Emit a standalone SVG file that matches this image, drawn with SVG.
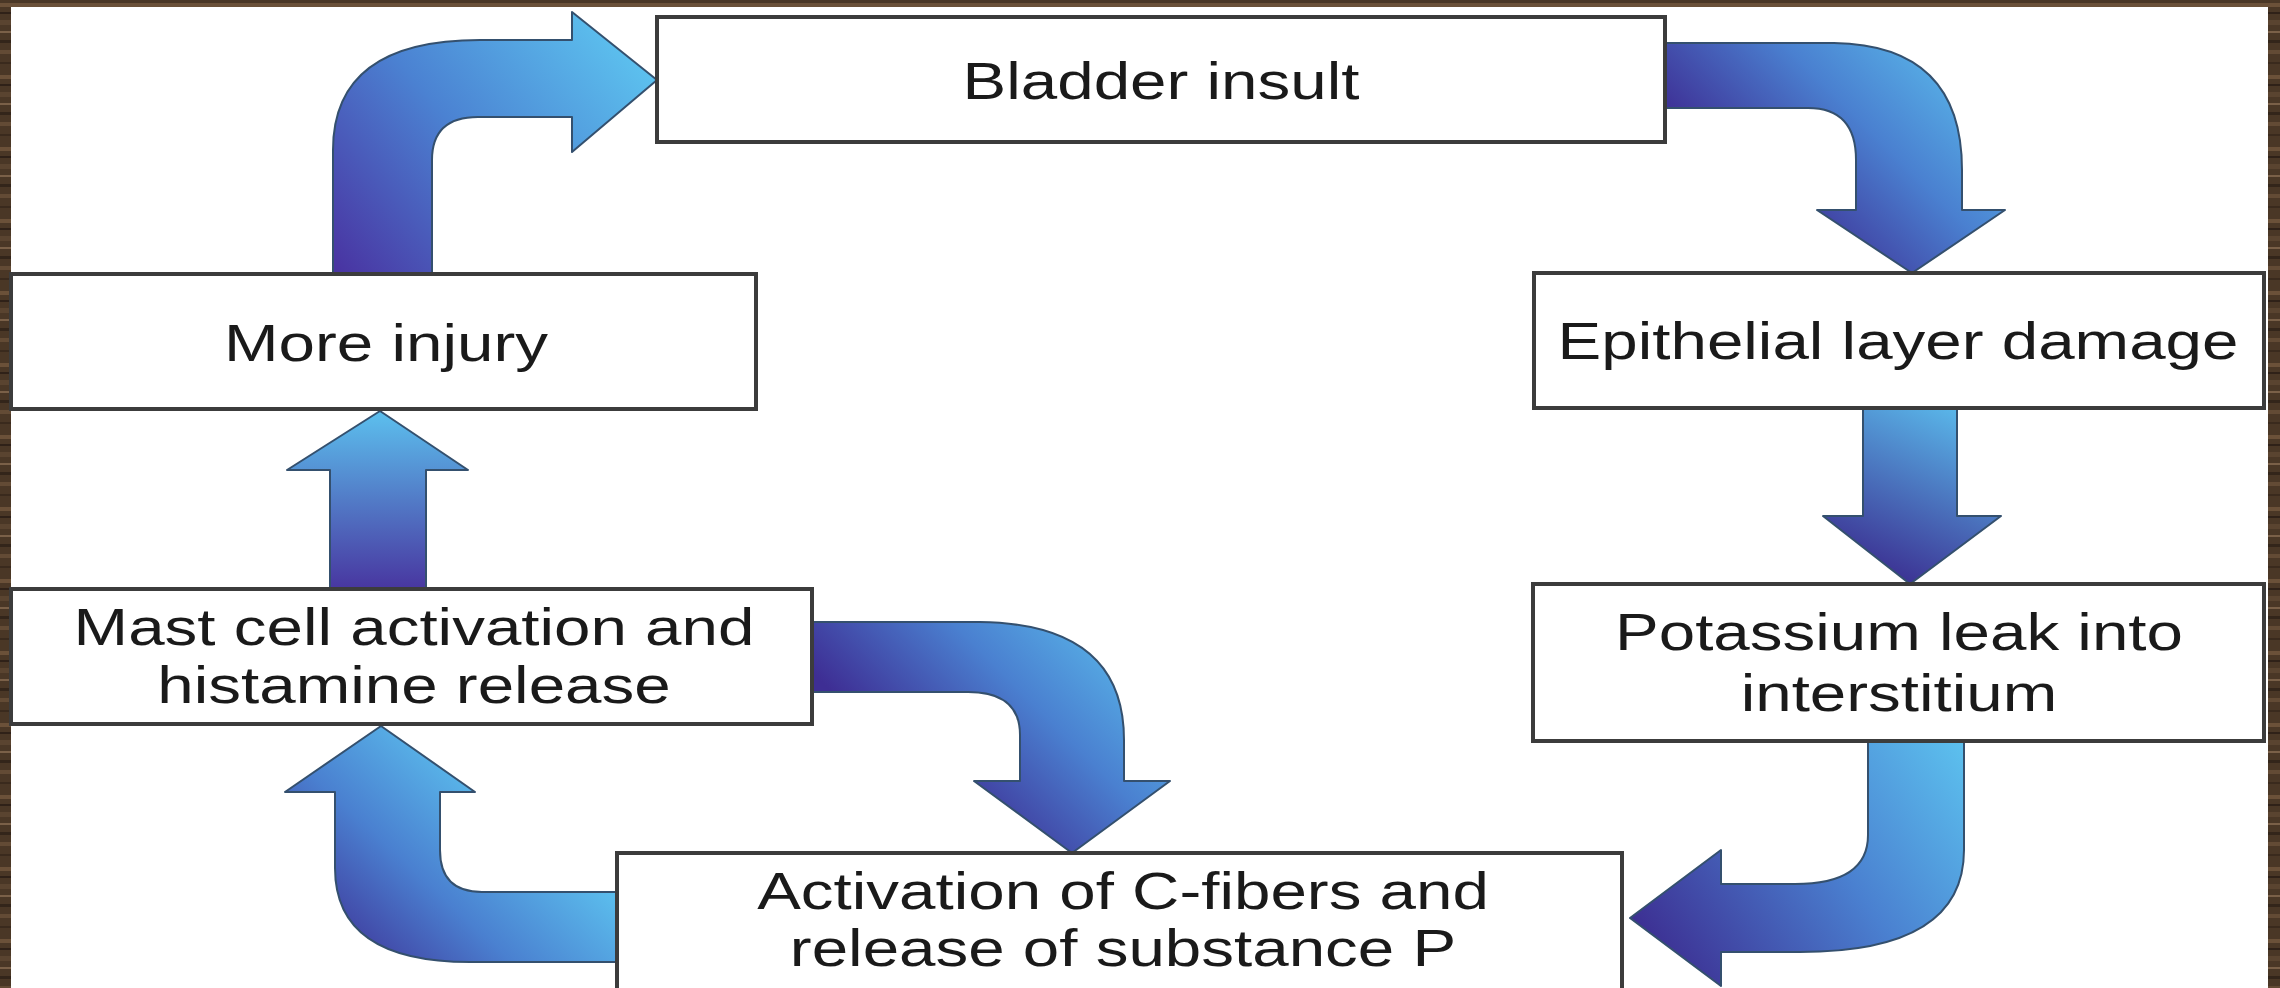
<svg xmlns="http://www.w3.org/2000/svg" width="2280" height="988" viewBox="0 0 2280 988">
  <defs>
    <pattern id="wood" patternUnits="userSpaceOnUse" width="40" height="72">
      <rect width="40" height="72" fill="#4a3726"/>
      <rect y="3" width="40" height="4" fill="#6b5139"/>
      <rect y="12" width="40" height="2" fill="#2f2118"/>
      <rect y="20" width="40" height="5" fill="#5a4430"/>
      <rect y="31" width="40" height="2" fill="#7a6048"/>
      <rect y="40" width="40" height="3" fill="#33251a"/>
      <rect y="50" width="40" height="4" fill="#634b35"/>
      <rect y="62" width="40" height="2" fill="#3a2a1d"/>
    </pattern>
    <linearGradient id="gA" gradientUnits="userSpaceOnUse" x1="340" y1="274" x2="620" y2="40">
      <stop offset="0" stop-color="#4934a2"/>
      <stop offset="0.5" stop-color="#4b82d2"/>
      <stop offset="1" stop-color="#5cc0ee"/>
    </linearGradient>
    <linearGradient id="gB" gradientUnits="userSpaceOnUse" x1="1990" y1="60" x2="1800" y2="250">
      <stop offset="0" stop-color="#5cc0ee"/>
      <stop offset="0.5" stop-color="#4a80d0"/>
      <stop offset="1" stop-color="#3e2e94"/>
    </linearGradient>
    <linearGradient id="gC" gradientUnits="userSpaceOnUse" x1="1960" y1="408" x2="1880" y2="584">
      <stop offset="0" stop-color="#5ab8ea"/>
      <stop offset="1" stop-color="#3a2a8e"/>
    </linearGradient>
    <linearGradient id="gD" gradientUnits="userSpaceOnUse" x1="1960" y1="741" x2="1650" y2="960">
      <stop offset="0" stop-color="#5cc0ee"/>
      <stop offset="0.45" stop-color="#4a80d0"/>
      <stop offset="1" stop-color="#3c2c90"/>
    </linearGradient>
    <linearGradient id="gE" gradientUnits="userSpaceOnUse" x1="1150" y1="630" x2="960" y2="820">
      <stop offset="0" stop-color="#5cc0ee"/>
      <stop offset="0.5" stop-color="#4a80d0"/>
      <stop offset="1" stop-color="#3e2e94"/>
    </linearGradient>
    <linearGradient id="gF" gradientUnits="userSpaceOnUse" x1="330" y1="962" x2="500" y2="780">
      <stop offset="0" stop-color="#3e2e94"/>
      <stop offset="0.5" stop-color="#4a80d0"/>
      <stop offset="1" stop-color="#5cc0ee"/>
    </linearGradient>
    <linearGradient id="gG" gradientUnits="userSpaceOnUse" x1="380" y1="589" x2="380" y2="411">
      <stop offset="0" stop-color="#4836a0"/>
      <stop offset="1" stop-color="#5cc0ee"/>
    </linearGradient>
  </defs>
  <style>
    .box { fill: #ffffff; stroke: #3c3c3c; stroke-width: 4; }
    .lbl { font-family: "Liberation Sans", Arial, sans-serif; font-size: 52px; fill: #1a1a1a; text-anchor: middle; }
    .arr { stroke: #34506e; stroke-width: 2; stroke-linejoin: round; }
  </style>

  <rect x="0" y="0" width="2280" height="988" fill="url(#wood)"/>
  <rect x="11" y="7" width="2257" height="981" fill="#ffffff"/>

  <g id="connectors">
    <path class="arr" fill="url(#gA)" d="M 333 274 L 333 150 Q 333 40 480 40 L 572 40 L 572 12 L 657 80 L 572 152 L 572 117 L 478 117 Q 432 117 432 160 L 432 274 Z"/>
    <path class="arr" fill="url(#gB)" d="M 1665 43 L 1834 43 Q 1962 45 1962 170 L 1962 210 L 2005 210 L 1912 273 L 1817 210 L 1856 210 L 1856 160 Q 1856 108 1808 108 L 1665 108 Z"/>
    <path class="arr" fill="url(#gC)" d="M 1863 408 L 1957 408 L 1957 516 L 2001 516 L 1910 584 L 1823 516 L 1863 516 Z"/>
    <path class="arr" fill="url(#gD)" d="M 1868 741 L 1964 741 L 1964 850 Q 1964 952 1800 952 L 1721 952 L 1721 986 L 1630 918 L 1721 850 L 1721 884 L 1795 884 Q 1868 884 1868 835 Z"/>
    <path class="arr" fill="url(#gE)" d="M 812 622 L 980 622 Q 1124 624 1124 740 L 1124 781 L 1170 781 L 1072 853 L 974 781 L 1020 781 L 1020 735 Q 1020 692 968 692 L 812 692 Z"/>
    <path class="arr" fill="url(#gF)" d="M 617 892 L 482 892 Q 440 892 440 850 L 440 792 L 475 792 L 381 726 L 285 792 L 335 792 L 335 868 Q 335 962 470 962 L 617 962 Z"/>
    <path class="arr" fill="url(#gG)" d="M 330 589 L 330 470 L 287 470 L 380 411 L 468 470 L 426 470 L 426 589 Z"/>
  </g>

  <g id="node-bladder">
    <rect class="box" x="657" y="17" width="1008" height="125"/>
    <text class="lbl" transform="translate(1161 99) scale(1.26 1)">Bladder insult</text>
  </g>
  <g id="node-epithelial">
    <rect class="box" x="1534" y="273" width="730" height="135"/>
    <text class="lbl" transform="translate(1898 359) scale(1.26 1)">Epithelial layer damage</text>
  </g>
  <g id="node-potassium">
    <rect class="box" x="1533" y="584" width="731" height="157"/>
    <text class="lbl" transform="translate(1899 650) scale(1.26 1)">Potassium leak into</text>
    <text class="lbl" transform="translate(1899 711) scale(1.26 1)">interstitium</text>
  </g>
  <g id="node-activation">
    <rect class="box" x="617" y="853" width="1005" height="150"/>
    <text class="lbl" transform="translate(1123 909) scale(1.26 1)">Activation of C-fibers and</text>
    <text class="lbl" transform="translate(1123 966) scale(1.26 1)">release of substance P</text>
  </g>
  <g id="node-mast">
    <rect class="box" x="11" y="589" width="801" height="135"/>
    <text class="lbl" transform="translate(414 645) scale(1.26 1)">Mast cell activation and</text>
    <text class="lbl" transform="translate(414 703) scale(1.26 1)">histamine release</text>
  </g>
  <g id="node-more-injury">
    <rect class="box" x="11" y="274" width="745" height="135"/>
    <text class="lbl" transform="translate(386 361) scale(1.26 1)">More injury</text>
  </g>
</svg>
